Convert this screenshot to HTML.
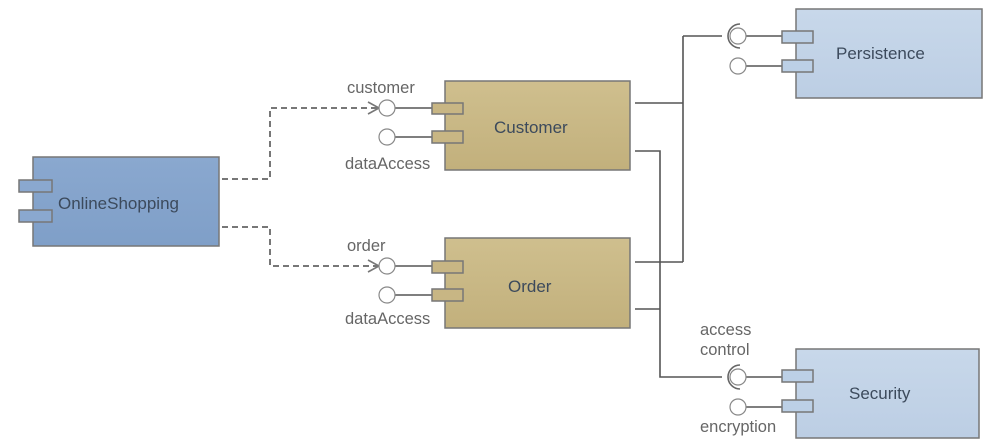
<!DOCTYPE html>
<html><head><style>body{margin:0;background:#fff}svg{display:block}text{font-family:"Liberation Sans",sans-serif}</style></head><body>
<svg width="1008" height="446" viewBox="0 0 1008 446">
<defs>
<linearGradient id="b" x1="0" y1="0" x2="0" y2="1"><stop offset="0" stop-color="#8aa8cf"/><stop offset="1" stop-color="#7f9fc8"/></linearGradient>
<linearGradient id="t" x1="0" y1="0" x2="0" y2="1"><stop offset="0" stop-color="#cfbf8e"/><stop offset="1" stop-color="#c2b07c"/></linearGradient>
<linearGradient id="l" x1="0" y1="0" x2="0" y2="1"><stop offset="0" stop-color="#c8d8ea"/><stop offset="1" stop-color="#bccee4"/></linearGradient>
</defs>
<g stroke="#555" stroke-width="1.6" fill="none">
<path d="M635 103H683M683 36V262M635 262H683M683 36H722"/>
<path d="M635 151H660V377H722M635 309H660"/>
<path d="M746 36H784M746 66H784M746 377H784M746 407H784"/>
<path d="M395 108H434M395 137H434M395 266H434M395 295H434"/>
</g>
<g stroke="#777" stroke-width="2" fill="none" stroke-dasharray="6,4">
<path d="M222 179H270V108H378"/>
<path d="M222 227H270V266H378"/>
</g>
<g stroke="#777" stroke-width="1.6" fill="none">
<path d="M368 102L379 108L368 114M368 260L379 266L368 272"/>
</g>
<g stroke="#888" stroke-width="1.2" fill="#fff">
<circle cx="387" cy="108" r="8"/><circle cx="387" cy="137" r="8"/>
<circle cx="387" cy="266" r="8"/><circle cx="387" cy="295" r="8"/>
<circle cx="738" cy="36" r="8"/><circle cx="738" cy="66" r="8"/>
<circle cx="738" cy="377" r="8"/><circle cx="738" cy="407" r="8"/>
</g>
<g stroke="#666" stroke-width="1.6" fill="none">
<path d="M740 24A12 12 0 0 0 740 48"/><path d="M740 365A12 12 0 0 0 740 389"/>
</g>
<g stroke="#777" stroke-width="1.5">
<rect x="33" y="157" width="186" height="89" fill="url(#b)"/>
<rect x="19" y="180" width="33" height="12" fill="#8aa8cf"/>
<rect x="19" y="210" width="33" height="12" fill="#8aa8cf"/>
<rect x="445" y="81" width="185" height="89" fill="url(#t)"/>
<rect x="432" y="103" width="31" height="11" fill="#c8b684"/>
<rect x="432" y="131" width="31" height="12" fill="#c8b684"/>
<rect x="445" y="238" width="185" height="90" fill="url(#t)"/>
<rect x="432" y="261" width="31" height="12" fill="#c8b684"/>
<rect x="432" y="289" width="31" height="12" fill="#c8b684"/>
<rect x="796" y="9" width="186" height="89" fill="url(#l)"/>
<rect x="782" y="31" width="31" height="12" fill="#bcd0e6"/>
<rect x="782" y="60" width="31" height="12" fill="#bcd0e6"/>
<rect x="796" y="349" width="183" height="89" fill="url(#l)"/>
<rect x="782" y="370" width="31" height="12" fill="#bcd0e6"/>
<rect x="782" y="400" width="31" height="12" fill="#bcd0e6"/>
</g>
<g font-size="17" fill="#3c4a5c">
<text x="58" y="209">OnlineShopping</text>
<text x="494" y="133">Customer</text>
<text x="508" y="292">Order</text>
<text x="836" y="59">Persistence</text>
<text x="849" y="399">Security</text>
</g>
<g font-size="16.5" fill="#666">
<text x="347" y="93">customer</text>
<text x="345" y="169">dataAccess</text>
<text x="347" y="251">order</text>
<text x="345" y="324">dataAccess</text>
<text x="700" y="335">access</text>
<text x="700" y="355">control</text>
<text x="700" y="432">encryption</text>
</g>
</svg>
</body></html>
